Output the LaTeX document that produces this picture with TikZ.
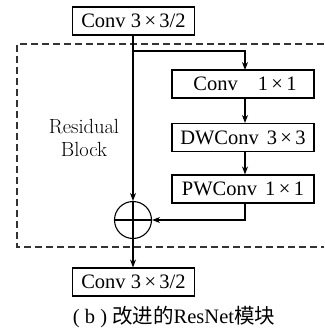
\documentclass[tikz,border=0pt]{standalone}
\usepackage{fontspec}
\newfontfamily\tnr{Liberation Serif}
\newfontfamily\cjk{Noto Sans CJK SC}
\usetikzlibrary{arrows.meta}
\begin{document}
\begin{tikzpicture}[x=1pt,y=-1pt,
  box/.style={draw,line width=1.1pt,minimum height=28pt,inner sep=0pt,font=\tnr\fontsize{20.5}{22}\selectfont},
  wide/.style={box,minimum width=122pt},
  side/.style={box,minimum width=142pt},
  conn/.style={line width=1.1pt},
  arr/.style={conn,-{Stealth[length=8pt,width=6pt]}},
  dashbox/.style={line width=1.2pt,dash pattern=on 7pt off 4pt,draw=black!80}]
\useasboundingbox (0,0) rectangle (324,329);
\draw[dashbox] (324,44) -- (17,44) -- (17,247) -- (324,247);
\node[wide] (top) at (133.5,21) {Conv 3\,×\,3/2};
\node[side] (c1) at (243,84) {\hspace{4pt}Conv\hspace{20pt}1\,×\,1};
\node[side] (dw) at (243,137.5) {DWConv\hspace{8pt}3\,×\,3};
\node[side] (pw) at (243,189) {PWConv\hspace{8pt}1\,×\,1};
\node[draw,circle,line width=1.1pt,minimum size=37pt,inner sep=0pt] (sum) at (133,220) {};
\node[wide] (bot) at (133.5,282) {Conv 3\,×\,3/2};
\node[font=\fontsize{20.5}{23}\selectfont,align=center] (lbl) at (84,138) {Residual\\Block};
\node[font=\fontsize{20.5}{22}\selectfont,inner sep=0pt] (cap) at (174,317) {\tnr( b ) \cjk 改进的\tnr ResNet\cjk 模块};
\coordinate (br) at (133,51);
\coordinate (a1) at (245,70);
\draw[arr] (top.south -| sum.north) -- (sum.north);
\draw[arr] (br) -| (a1);
\draw[arr] (c1.south -| a1) -- (dw.north -| a1);
\draw[arr] (dw.south -| a1) -- (pw.north -| a1);
\draw[arr] (pw.south -| a1) |- (sum.east);
\draw[conn] (sum.west) -- (sum.east);
\draw[conn] (sum.north) -- (sum.south);
\draw[arr] (sum.south) -- (bot.north -| sum.south);
\end{tikzpicture}
\end{document}
